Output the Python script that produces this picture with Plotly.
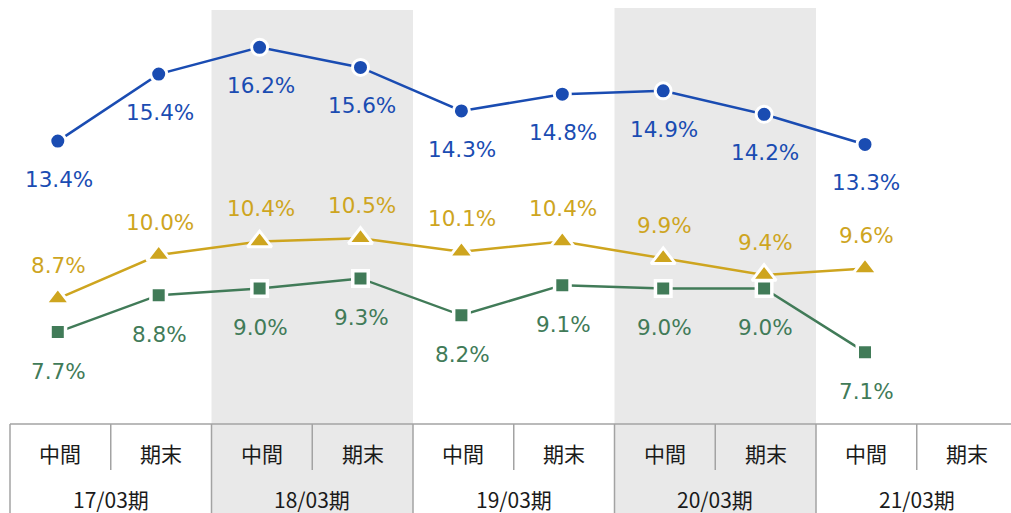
import plotly.graph_objects as go

# ---- data ----
periods = ["17/03期", "18/03期", "19/03期", "20/03期", "21/03期"]
halves = ["中間", "期末"]
shaded_periods = ["18/03期", "20/03期"]
blue_vals = [13.4, 15.4, 16.2, 15.6, 14.3, 14.8, 14.9, 14.2, 13.3]
yellow_vals = [8.7, 10.0, 10.4, 10.5, 10.1, 10.4, 9.9, 9.4, 9.6]
green_vals = [7.7, 8.8, 9.0, 9.3, 8.2, 9.1, 9.0, 9.0, 7.1]

W, H = 1011, 513
BLUE = "#1a4cb2"
YELLOW = "#cea51f"
GREEN = "#417b58"
SHADE = "#e9e9e9"
GRID = "#a3a3a3"
NUM_FONT = "DejaVu Sans"
JP_FONT = "Noto Sans CJK JP"

def px(p):
    return p / W

def py(p):
    return 1 - p / H

SLOT0, SLOTW = 10, 100.75
def bound(i):
    return SLOT0 + SLOTW * i

xs = list(range(len(blue_vals)))

fig = go.Figure()

series = [
    (blue_vals, BLUE, "circle", 16, 3.0, -38.5),
    (yellow_vals, YELLOW, "triangle-up", 21, 3.0, 33),
    (green_vals, GREEN, "square", 15.5, 3.5, -39),
]

annotations = []
for vals, col, sym, size, lw, shift in series:
    fig.add_trace(go.Scatter(
        x=xs, y=vals, mode="lines+markers",
        line=dict(color=col, width=2.5),
        marker=dict(symbol=sym, size=size, color=col,
                    line=dict(color="white", width=lw)),
        hoverinfo="skip", showlegend=False,
    ))
    for x, v in zip(xs, vals):
        annotations.append(dict(
            x=x, y=v, xref="x", yref="y", text=f"{v:.1f}%",
            showarrow=False, yshift=shift, xshift=1,
            xanchor="center", yanchor="middle",
            font=dict(family=NUM_FONT, size=21.5, color=col),
        ))

shapes = []
# shaded bands
for name in shaded_periods:
    j = periods.index(name)
    top = 10 if j == 1 else 8
    shapes.append(dict(type="rect", xref="paper", yref="paper",
                       x0=px(bound(2 * j)), x1=px(bound(2 * j + 2)),
                       y0=0, y1=py(top), fillcolor=SHADE,
                       line=dict(width=0), layer="below"))

TABLE_TOP, HALF_BOTTOM = 424, 470
shapes.append(dict(type="line", xref="paper", yref="paper",
                   x0=px(bound(0)), x1=1, y0=py(TABLE_TOP), y1=py(TABLE_TOP),
                   line=dict(color=GRID, width=1.5)))
for i in range(len(periods) * 2):
    yb = 0 if i % 2 == 0 else py(HALF_BOTTOM)
    shapes.append(dict(type="line", xref="paper", yref="paper",
                       x0=px(bound(i)), x1=px(bound(i)),
                       y0=py(TABLE_TOP), y1=yb,
                       line=dict(color=GRID, width=1.5)))

for j, name in enumerate(periods):
    for k, h in enumerate(halves):
        i = 2 * j + k
        annotations.append(dict(
            x=px((bound(i) + bound(i + 1)) / 2), y=py(453),
            xref="paper", yref="paper", text=h, showarrow=False,
            xanchor="center", yanchor="middle",
            font=dict(family=JP_FONT, size=21, color="#1a1a1a"),
        ))
    annotations.append(dict(
        x=px(bound(2 * j + 1)), y=py(499),
        xref="paper", yref="paper", text=name, showarrow=False,
        xanchor="center", yanchor="middle",
        font=dict(family=JP_FONT, size=21, color="#1a1a1a"),
    ))

# x mapping: pixel = 57.8 + 100.9 * x
XA, XB = 57.8, 100.9
# y mapping: pixel = 590 - 33.5 * v
YA, YB = 590, 33.5

fig.update_layout(
    width=W, height=H,
    margin=dict(l=0, r=0, t=0, b=0),
    paper_bgcolor="white", plot_bgcolor="rgba(0,0,0,0)",
    xaxis=dict(range=[(0 - XA) / XB, (W - XA) / XB], visible=False,
               fixedrange=True),
    yaxis=dict(range=[(YA - H) / YB, YA / YB], visible=False,
               fixedrange=True),
    shapes=shapes, annotations=annotations,
)

fig.write_html("out.html",
               config={"displayModeBar": False},
               post_script="document.body.style.margin='0';document.body.style.overflow='hidden';")
